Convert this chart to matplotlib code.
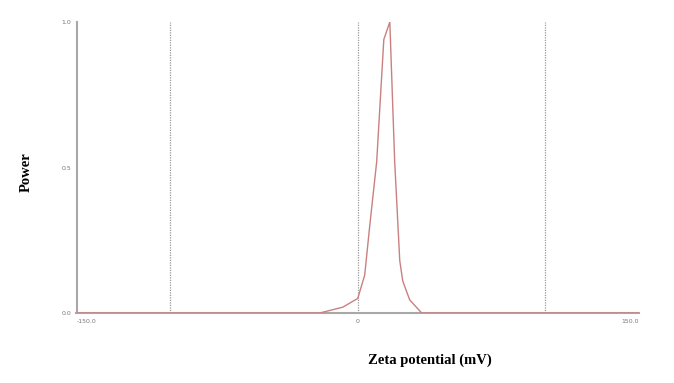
import matplotlib
matplotlib.use("Agg")
import matplotlib.pyplot as plt

# Data (zeta potential distribution)
zeta_mv = [-150.0, -20.3, -8.0, 0.0, 3.7, 6.4, 10.1, 13.9, 17.1, 19.7, 22.4, 24.0, 27.7, 34.1, 150.0]
power = [0.0, 0.0, 0.02, 0.05, 0.13, 0.30, 0.52, 0.94, 1.0, 0.52, 0.18, 0.11, 0.045, 0.0, 0.0]
ref_lines = [-100, 0, 100]
y_ticks = [0.0, 0.5, 1.0]
y_ticklabels = ["0.0", "0.5", "1.0"]
x_ticks = [-150, 0, 150]
x_ticklabels = ["-150.0", "0", "150.0"]

fig = plt.figure(figsize=(6.74, 3.83), dpi=100)
ax = fig.add_axes([76.5/674, 70/383, (639-76.5)/674, (313-22)/383])

for xv in ref_lines:
    ax.axvline(xv, color="#9a9a9a", linestyle=(0, (1, 1)), linewidth=0.9, zorder=1)

ax.plot(zeta_mv, power, color="#c98080", linewidth=1.0, zorder=3)

ax.set_xlim(-150, 150)
ax.set_ylim(0, 1.0)
for s in ["top", "right"]:
    ax.spines[s].set_visible(False)
for s in ["left", "bottom"]:
    ax.spines[s].set_color("#a8a8a8")
    ax.spines[s].set_linewidth(1.5)

ax.set_yticks(y_ticks)
ax.set_yticklabels(y_ticklabels)
ax.set_xticks(x_ticks)
ax.set_xticklabels(x_ticklabels)
ax.tick_params(axis="both", length=0, labelsize=4.5, labelcolor="#777777", pad=4)
xl = ax.get_xticklabels()
xl[0].set_horizontalalignment("left")
xl[2].set_horizontalalignment("right")

fig.text(430/674, 1 - 360/383, "Zeta potential (mV)", family="Liberation Serif",
         weight="bold", fontsize=10.5, ha="center", va="center")
fig.text(26/674, 1 - 172/383, "Power", family="Liberation Serif",
         weight="bold", fontsize=10.5, ha="center", va="center", rotation=90)

fig.savefig("out.png", dpi=100)
